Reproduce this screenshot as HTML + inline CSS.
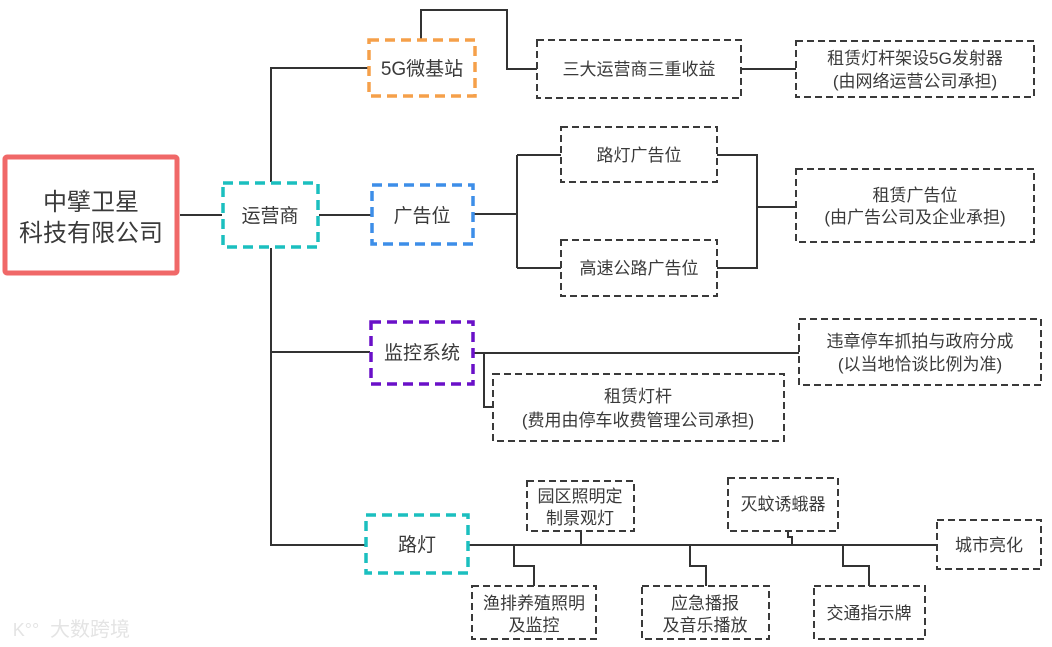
<!DOCTYPE html>
<html><head><meta charset="utf-8"><style>
html,body{margin:0;padding:0;background:#fff;}
svg{display:block;}
text{font-family:"Liberation Sans","Noto Sans CJK SC",sans-serif;fill:#3a3a3a;text-anchor:middle;}
.l{stroke:#333;stroke-width:2;fill:none;}
.d{stroke:#3a3a3a;stroke-width:2;fill:#fff;stroke-dasharray:7 4;}
.t{font-size:17px;}
.m{font-size:19px;}
</style></head><body>
<svg width="1052" height="647" viewBox="0 0 1052 647" xmlns="http://www.w3.org/2000/svg">
<path class="l" d="M180 215H222 M319 215H371 M271 182V68H368 M271 248V545H365 M271 352H370"/>
<path class="l" d="M421 39V10H507V69H537 M741 69H796"/>
<path class="l" d="M474 214H517 M517 155V268 M517 155H561 M517 268H561 M717 155H757V268H717 M757 207H796"/>
<path class="l" d="M474 353H799 M484 353V407H493"/>
<path class="l" d="M469 545H937 M581 531V545 M788 531V537H792V545 M514 545V566H534V586 M690 545V566H706V586 M843 545V566H869V586"/>
<rect x="5" y="157" width="172" height="116" fill="#fff" stroke="#f06868" stroke-width="5" rx="2"/>
<text x="91" y="210" style="font-size:24px">中擘卫星</text>
<text x="91" y="241" style="font-size:24px">科技有限公司</text>
<rect x="223" y="183" width="95" height="64" fill="#fff" stroke="#1bbfbf" stroke-width="3.5" stroke-dasharray="10 6"/>
<text class="m" x="270" y="222">运营商</text>
<rect x="369" y="40" width="106" height="56" fill="#fff" stroke="#f5a04a" stroke-width="3.5" stroke-dasharray="10 6"/>
<text class="m" x="422" y="75">5G微基站</text>
<rect x="372" y="185" width="101" height="59" fill="#fff" stroke="#3d8ee8" stroke-width="3.5" stroke-dasharray="10 6"/>
<text class="m" x="422" y="222">广告位</text>
<rect x="371" y="322" width="102" height="62" fill="#fff" stroke="#6a10c8" stroke-width="3.5" stroke-dasharray="10 6"/>
<text class="m" x="422" y="359">监控系统</text>
<rect x="366" y="515" width="102" height="58" fill="#fff" stroke="#1bbfbf" stroke-width="3.5" stroke-dasharray="10 6"/>
<text class="m" x="417" y="551">路灯</text>
<rect class="d" x="537" y="40" width="204" height="58"/>
<text class="t" x="639" y="75">三大运营商三重收益</text>
<rect class="d" x="796" y="41" width="238" height="56"/>
<text class="t" x="915" y="64">租赁灯杆架设5G发射器</text>
<text class="t" x="915" y="87">(由网络运营公司承担)</text>
<rect class="d" x="561" y="127" width="156" height="55"/>
<text class="t" x="639" y="161">路灯广告位</text>
<rect class="d" x="561" y="240" width="156" height="56"/>
<text class="t" x="639" y="274">高速公路广告位</text>
<rect class="d" x="796" y="169" width="238" height="73"/>
<text class="t" x="915" y="201">租赁广告位</text>
<text class="t" x="915" y="223">(由广告公司及企业承担)</text>
<rect class="d" x="799" y="319" width="242" height="66"/>
<text class="t" x="920" y="347">违章停车抓拍与政府分成</text>
<text class="t" x="920" y="370">(以当地恰谈比例为准)</text>
<rect class="d" x="493" y="374" width="291" height="67"/>
<text class="t" x="638" y="402">租赁灯杆</text>
<text class="t" x="638" y="426">(费用由停车收费管理公司承担)</text>
<rect class="d" x="527" y="481" width="107" height="50"/>
<text class="t" x="580" y="502">园区照明定</text>
<text class="t" x="580" y="524">制景观灯</text>
<rect class="d" x="728" y="478" width="110" height="53"/>
<text class="t" x="783" y="510">灭蚊诱蛾器</text>
<rect class="d" x="937" y="520" width="104" height="49"/>
<text class="t" x="989" y="551">城市亮化</text>
<rect class="d" x="472" y="586" width="124" height="53"/>
<text class="t" x="534" y="609">渔排养殖照明</text>
<text class="t" x="534" y="631">及监控</text>
<rect class="d" x="642" y="586" width="127" height="53"/>
<text class="t" x="705" y="609">应急播报</text>
<text class="t" x="705" y="631">及音乐播放</text>
<rect class="d" x="814" y="586" width="111" height="53"/>
<text class="t" x="869" y="619">交通指示牌</text>
<text x="90" y="636" style="font-size:20px;fill:#e4e4e4">大数跨境</text>
<text x="26" y="636" style="font-size:18px;fill:#e4e4e4">K°°</text>
</svg>
</body></html>
